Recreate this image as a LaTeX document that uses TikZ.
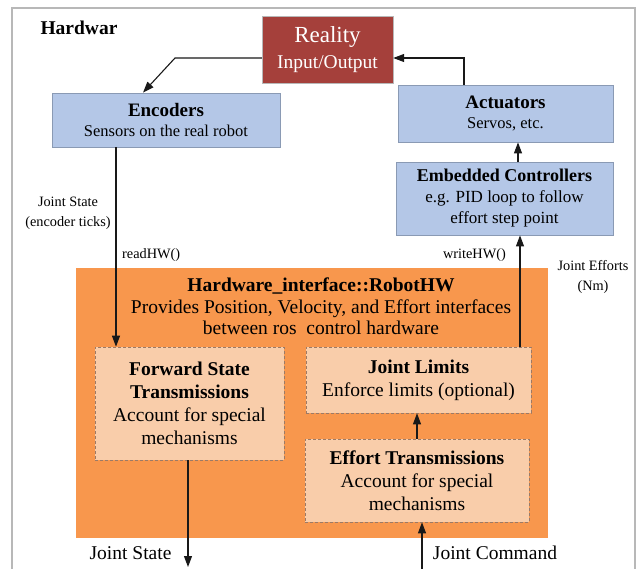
\documentclass[tikz,border=0pt]{standalone}
\usepackage{fontspec}
\setmainfont{Liberation Serif}
\usetikzlibrary{arrows.meta}
\definecolor{cred}{HTML}{A5403B}
\definecolor{cblue}{HTML}{B4C7E7}
\definecolor{cblueline}{HTML}{8A9AB4}
\definecolor{corange}{HTML}{F8974D}
\definecolor{cpeach}{HTML}{F9CDAA}
\definecolor{cdash}{HTML}{9C7A66}
\definecolor{cframe}{HTML}{B8B8B8}
\newcommand{\fsz}[2]{\fontsize{#1}{#2}\selectfont}

\begin{document}
\begin{tikzpicture}[x=1pt,y=-1pt,
  bluebox/.style={draw=cblueline,fill=cblue,line width=0.8pt,align=center,
    inner sep=0pt,font=\fsz{16.5}{20.5}},
  peachbox/.style={draw=cdash,densely dashed,line width=0.6pt,fill=cpeach,
    align=center,inner sep=0pt,font=\fsz{19.5}{23}},
  lbl/.style={align=center,inner sep=0pt},
  arr/.style={-{Triangle[length=11pt,width=8pt]},line width=1.1pt,draw=black!90}]
  \useasboundingbox (0,0) rectangle (640,568);
  \clip (0,0) rectangle (640,568);
  \draw[cframe,line width=1.5pt] (12,8) rectangle (635,620);
  \node[lbl,font=\fsz{19.5}{22}\bfseries] (title) at (79,28) {Hardwar};
  % top row
  \node[draw=cframe,fill=cred,text=white,align=center,inner sep=0pt,
    minimum width=131pt,minimum height=67pt,font=\fsz{19.5}{26}] (reality) at (327.5,49.5)
    {{\fsz{23}{26}Reality}\\Input/Output};
  \node[bluebox,minimum width=228pt,minimum height=54pt] (enc) at (166,120)
    {{\fsz{19}{20.5}\bfseries Encoders}\\Sensors on the real robot};
  \node[bluebox,minimum width=215pt,minimum height=57pt] (act) at (505.5,113.5)
    {{\fsz{19}{20.5}\bfseries Actuators}\\Servos, etc.};
  \node[bluebox,minimum width=217pt,minimum height=73pt,font=\fsz{17}{21}] (emb) at (504.5,198.5)
    {{\fsz{18}{21}\bfseries Embedded Controllers}\\e.g. PID loop to follow\\effort step point};
  % robot hw block
  \node[fill=corange,minimum width=472pt,minimum height=270pt,inner sep=0pt] (hw) at (312,403) {};
  \node[lbl,font=\fsz{19.5}{21.5}] (hwt) at (321,306.5)
    {\textbf{Hardware\_interface::RobotHW}\\Provides Position, Velocity, and Effort interfaces\\between ros\ \ control hardware};
  \node[peachbox,minimum width=189pt,minimum height=113pt] (fwd) at (189.5,403.5)
    {\textbf{Forward State}\\\textbf{Transmissions}\\Account for special\\mechanisms};
  \node[peachbox,minimum width=225pt,minimum height=66pt] (lim) at (418.5,380)
    {\textbf{Joint Limits}\\Enforce limits (optional)};
  \node[peachbox,minimum width=224pt,minimum height=83pt] (eff) at (417,480.5)
    {\textbf{Effort Transmissions}\\Account for special\\mechanisms};
  % labels
  \node[lbl,font=\fsz{14.3}{20}] (jsin) at (68,213) {Joint State\\(encoder ticks)};
  \node[lbl,font=\fsz{14.3}{20},anchor=west] (rd) at (122,255) {readHW()};
  \node[lbl,font=\fsz{14.3}{20},anchor=east] (wr) at (506,255) {writeHW()};
  \node[lbl,font=\fsz{14.3}{20}] (jeff) at (593,277) {Joint Efforts\\(Nm)};
  \node[lbl,font=\fsz{19.5}{22}] (jsout) at (130.5,553) {Joint State};
  \node[lbl,font=\fsz{19.5}{22}] (jcmd) at (495,553) {Joint Command};
  \coordinate (bend) at (175,58);
  \coordinate (jsend) at (188,567);
  \coordinate (jcbeg) at (422,580);
  % connectors
  \draw[arr] ([yshift=-8.5pt]reality.west) -- (bend) -- ([xshift=-23pt]enc.north);
  \draw[arr] ([xshift=-41.5pt]act.north) |- ([yshift=-8.5pt]reality.east);
  \draw[arr] ([xshift=13.5pt]emb.north) -- ([xshift=12.5pt]act.south);
  \draw[arr] ([xshift=-50pt]enc.south) -- ([xshift=-73.5pt]fwd.north);
  \draw[arr] ([xshift=101.5pt]lim.north) -- ([xshift=15.5pt]emb.south);
  \draw[arr] (eff.north) -- (eff.north |- lim.south);
  \draw[arr] (fwd.south -| jsend) -- (jsend);
  \draw[arr] (jcbeg) -- (jcbeg |- eff.south);
\end{tikzpicture}
\end{document}
